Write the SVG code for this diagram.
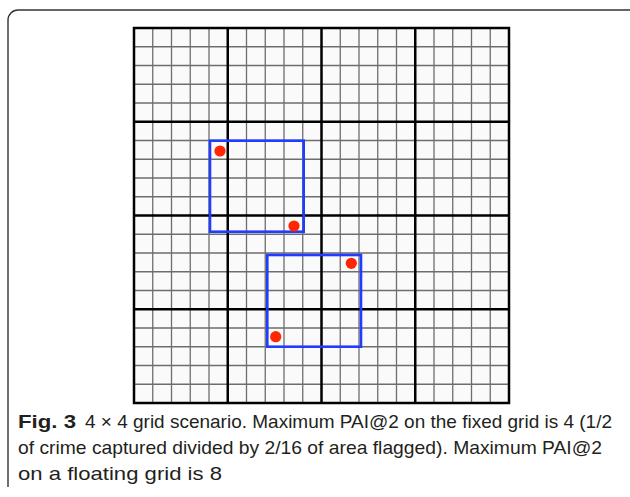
<svg xmlns="http://www.w3.org/2000/svg" width="630" height="497" viewBox="0 0 630 497">
<style>
.frame{fill:none;stroke:#333;stroke-width:1.4}
.minor{fill:none;stroke:#6e6e6e;stroke-width:1.3}
.major{fill:none;stroke:#000;stroke-width:2.5}
.box{fill:none;stroke:#1f3cff;stroke-width:2.6}
.dot{fill:#ff2600}
.cap{font-family:"Liberation Sans","Noto Sans",sans-serif;font-size:19px;fill:#231f20}
.b{font-weight:bold}
</style>
<rect width="630" height="497" fill="#fff"/>
<path class="frame" d="M630,10 H18 A10,10 0 0 0 8,20 V487"/>
<g id="grid">
<rect x="134" y="28" width="375" height="375" fill="#fafafa"/>
<path class="minor" d="M152.75,28V403M171.5,28V403M190.25,28V403M209,28V403M246.5,28V403M265.25,28V403M284,28V403M302.75,28V403M340.25,28V403M359,28V403M377.75,28V403M396.5,28V403M434,28V403M452.75,28V403M471.5,28V403M490.25,28V403M134,46.75H509M134,65.5H509M134,84.25H509M134,103H509M134,140.5H509M134,159.25H509M134,178H509M134,196.75H509M134,234.25H509M134,253H509M134,271.75H509M134,290.5H509M134,328H509M134,346.75H509M134,365.5H509M134,384.25H509"/>
<path class="major" d="M227.75,28V403M321.5,28V403M415.25,28V403M134,121.75H509M134,215.5H509M134,309.25H509"/>
<rect class="major" x="134" y="28" width="375" height="375"/>
</g>
<g id="window1">
<rect class="box" x="210" y="140.7" width="93.7" height="91"/>
<circle class="dot" cx="220" cy="151" r="5.6"/>
<circle class="dot" cx="294" cy="226" r="5.6"/>
</g>
<g id="window2">
<rect class="box" x="267.3" y="255" width="93.7" height="91.7"/>
<circle class="dot" cx="351.3" cy="263.3" r="5.6"/>
<circle class="dot" cx="275.7" cy="336.7" r="5.6"/>
</g>
<g id="caption" class="cap">
<text x="18" y="428" textLength="58" lengthAdjust="spacingAndGlyphs" class="b">Fig. 3</text>
<text x="85" y="428" textLength="527" lengthAdjust="spacingAndGlyphs">4 × 4 grid scenario. Maximum PAI@2 on the fixed grid is 4 (1/2</text>
<text x="18" y="454" textLength="584" lengthAdjust="spacingAndGlyphs">of crime captured divided by 2/16 of area flagged). Maximum PAI@2</text>
<text x="18" y="480" textLength="204" lengthAdjust="spacingAndGlyphs">on a floating grid is 8</text>
</g>
</svg>
